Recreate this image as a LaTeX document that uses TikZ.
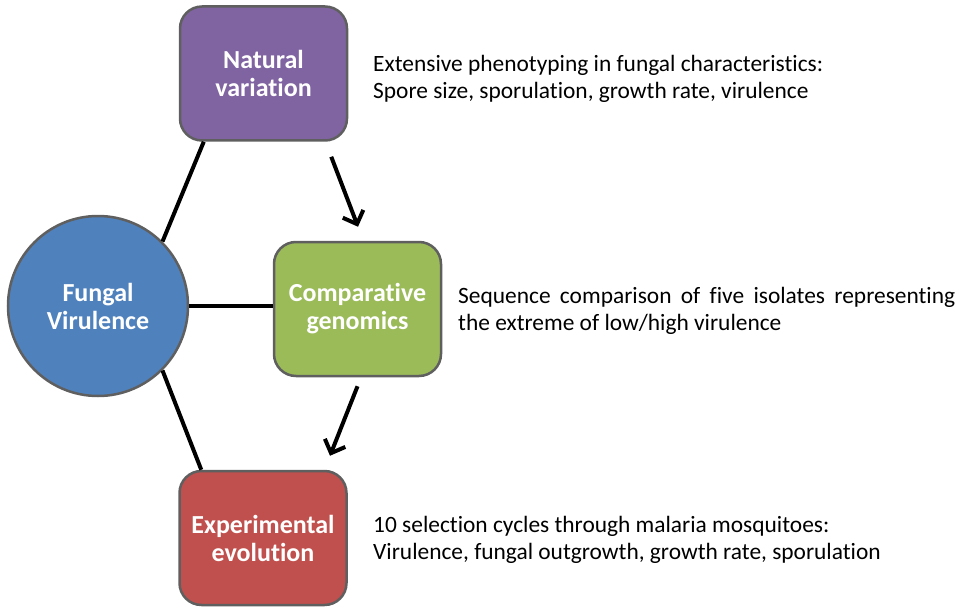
\documentclass[tikz,border=0pt]{standalone}
\usepackage{fontspec}
\setmainfont{Carlito}[Ligatures={NoCommon}]
\usetikzlibrary{arrows.meta,calc}
\definecolor{cpurple}{HTML}{8064A2}
\definecolor{cblue}{HTML}{4F81BD}
\definecolor{cgreen}{HTML}{9BBB59}
\definecolor{cred}{HTML}{C0504D}
\definecolor{cborder}{HTML}{5F5F5F}
\tikzset{
  boxnode/.style={draw=cborder, line width=2.5pt, rounded corners=22pt, minimum width=167pt, minimum height=134pt, text=white, font=\fontsize{26}{28}\selectfont\bfseries, align=center, inner sep=0pt},
  circnode/.style={circle, draw=cborder, line width=2.5pt, fill=cblue, minimum size=180pt, text=white, font=\fontsize{26}{28}\selectfont\bfseries, align=center, inner sep=0pt},
  link/.style={line width=4pt, black},
  arr/.style={line width=4pt, black, -{Straight Barb[length=11pt,width=22pt,line width=4pt]}},
  desc/.style={anchor=base west, inner sep=0pt, font=\fontsize{23.4}{27}\selectfont, align=left}
}
\begin{document}
\begin{tikzpicture}[x=1pt,y=-1pt]
\useasboundingbox (0,0) rectangle (961,607);
\node[boxnode, fill=cpurple] (nat) at (263.5,73.5) {Natural\\variation};
\node[boxnode, fill=cgreen] (comp) at (357.5,309) {Comparative\\genomics};
\node[boxnode, fill=cred] (exp) at (263,538) {Experimental\\evolution};
\node[circnode] (fv) at (98,306) {Fungal\\Virulence};
\draw[link] (fv.45) -- ([xshift=25pt]nat.south west);
\draw[link] (fv.east) -- (fv.east -| comp.west);
\draw[link] (fv.-45) -- ([xshift=23pt]exp.north west);
\coordinate (a1s) at ([xshift=-17pt,yshift=-15pt]nat.south east);
\coordinate (a1e) at ([xshift=0.5pt,yshift=14pt]comp.north);
\draw[arr] (a1s) -- (a1e);
\coordinate (a2s) at ([yshift=-9pt]comp.south);
\coordinate (a2e) at ([xshift=67pt,yshift=14pt]exp.north);
\draw[arr] (a2s) -- (a2e);
\node[desc] (t1) at (373,99) {Extensive phenotyping in fungal characteristics:\\Spore size, sporulation, growth rate, virulence};
\node[desc, anchor=base west, text width=497pt, align=justify] (t2) at (458,303) {Sequence comparison of five isolates representing the extreme of low/high virulence};
\node[desc] (t3) at (373,559) {10 selection cycles through malaria mosquitoes:\\Virulence, fungal outgrowth, growth rate, sporulation};
\end{tikzpicture}
\end{document}
